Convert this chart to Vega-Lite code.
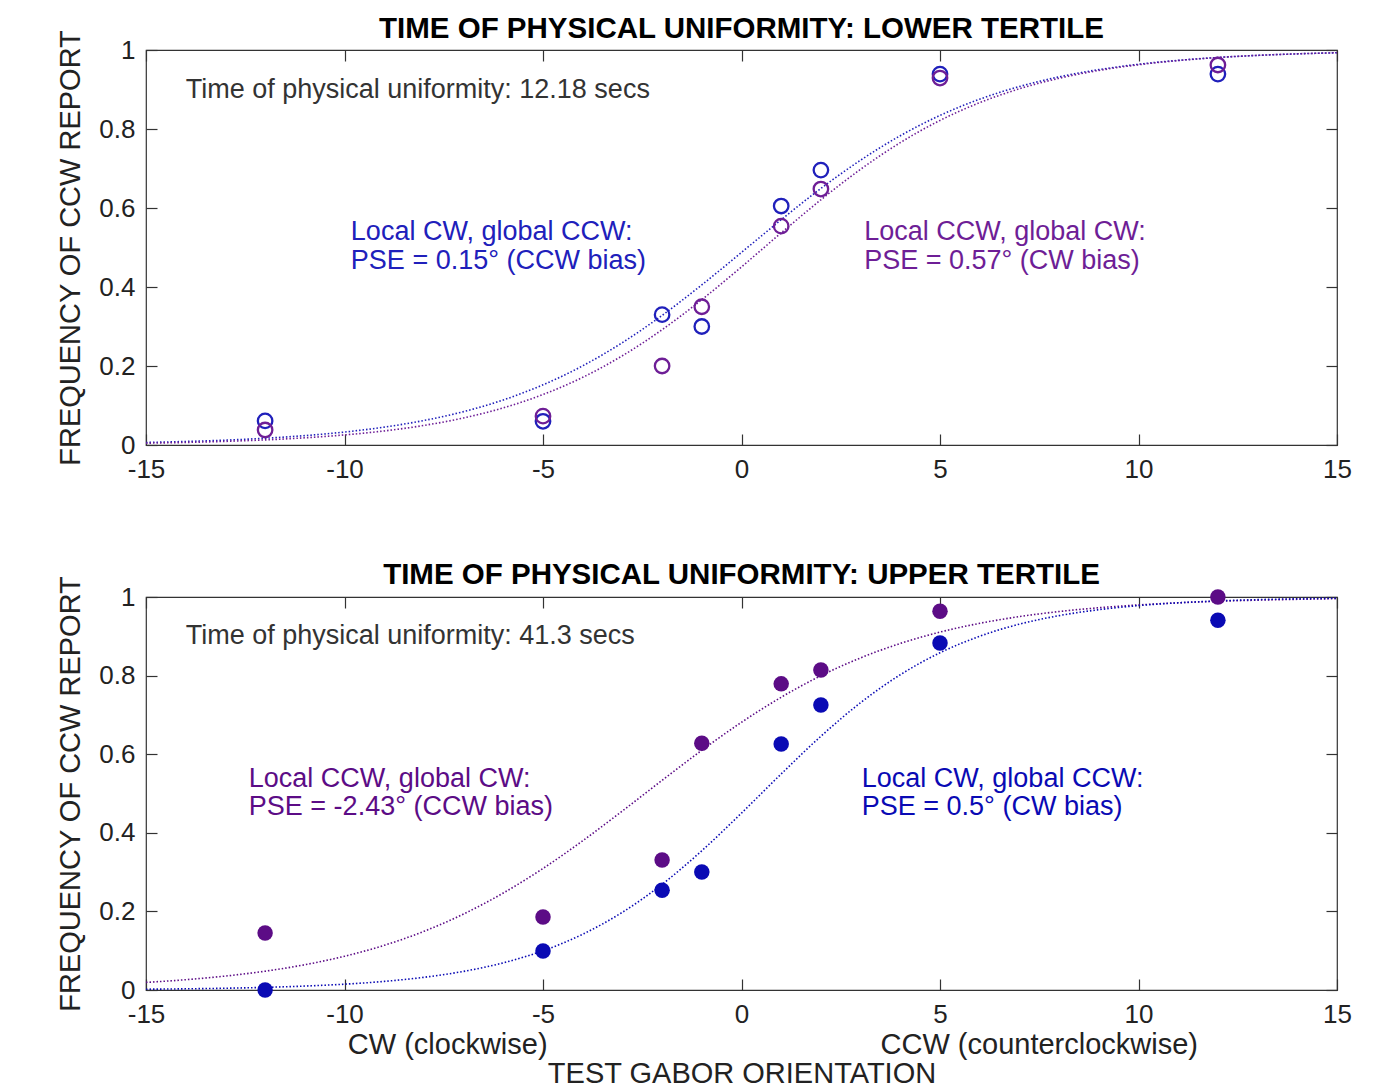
{
  "$schema": "https://vega.github.io/schema/vega-lite/v6.json",
  "padding": {"left": 56, "top": 13, "right": 5, "bottom": 0},
  "background": "white",
  "config": {
    "font": "Liberation Sans",
    "view": {"stroke": "#333333", "strokeWidth": 1.2},
    "axis": {
      "labelFont": "Liberation Sans", "labelFontSize": 26, "labelColor": "#222222",
      "titleFont": "Liberation Sans", "titleFontSize": 29, "titleFontWeight": "normal", "titleColor": "#222222",
      "domain": false, "grid": false, "tickColor": "#333333", "tickSize": -11, "tickWidth": 1.2,
      "labelExpr": "toString(datum.value)", "labelFlush": false, "labelOverlap": false
    },
    "title": {"font": "Liberation Sans", "fontSize": 29.5, "fontWeight": "bold", "color": "#000000", "offset": -15}
  },
  "datasets": {
    "points": [
      {"panel": "top", "condition": "Local CW, global CCW", "orientation": -12, "freq": 0.061},
      {"panel": "top", "condition": "Local CW, global CCW", "orientation": -5, "freq": 0.06},
      {"panel": "top", "condition": "Local CW, global CCW", "orientation": -2, "freq": 0.33},
      {"panel": "top", "condition": "Local CW, global CCW", "orientation": -1, "freq": 0.30},
      {"panel": "top", "condition": "Local CW, global CCW", "orientation": 1, "freq": 0.605},
      {"panel": "top", "condition": "Local CW, global CCW", "orientation": 2, "freq": 0.696},
      {"panel": "top", "condition": "Local CW, global CCW", "orientation": 5, "freq": 0.939},
      {"panel": "top", "condition": "Local CW, global CCW", "orientation": 12, "freq": 0.939},
      {"panel": "top", "condition": "Local CCW, global CW", "orientation": -12, "freq": 0.038},
      {"panel": "top", "condition": "Local CCW, global CW", "orientation": -5, "freq": 0.073},
      {"panel": "top", "condition": "Local CCW, global CW", "orientation": -2, "freq": 0.20},
      {"panel": "top", "condition": "Local CCW, global CW", "orientation": -1, "freq": 0.35},
      {"panel": "top", "condition": "Local CCW, global CW", "orientation": 1, "freq": 0.554},
      {"panel": "top", "condition": "Local CCW, global CW", "orientation": 2, "freq": 0.648},
      {"panel": "top", "condition": "Local CCW, global CW", "orientation": 5, "freq": 0.929},
      {"panel": "top", "condition": "Local CCW, global CW", "orientation": 12, "freq": 0.962},
      {"panel": "bottom", "condition": "Local CCW, global CW", "orientation": -12, "freq": 0.145},
      {"panel": "bottom", "condition": "Local CCW, global CW", "orientation": -5, "freq": 0.186},
      {"panel": "bottom", "condition": "Local CCW, global CW", "orientation": -2, "freq": 0.331},
      {"panel": "bottom", "condition": "Local CCW, global CW", "orientation": -1, "freq": 0.628},
      {"panel": "bottom", "condition": "Local CCW, global CW", "orientation": 1, "freq": 0.779},
      {"panel": "bottom", "condition": "Local CCW, global CW", "orientation": 2, "freq": 0.814},
      {"panel": "bottom", "condition": "Local CCW, global CW", "orientation": 5, "freq": 0.964},
      {"panel": "bottom", "condition": "Local CCW, global CW", "orientation": 12, "freq": 1.0},
      {"panel": "bottom", "condition": "Local CW, global CCW", "orientation": -12, "freq": 0.0},
      {"panel": "bottom", "condition": "Local CW, global CCW", "orientation": -5, "freq": 0.099},
      {"panel": "bottom", "condition": "Local CW, global CCW", "orientation": -2, "freq": 0.254},
      {"panel": "bottom", "condition": "Local CW, global CCW", "orientation": -1, "freq": 0.30},
      {"panel": "bottom", "condition": "Local CW, global CCW", "orientation": 1, "freq": 0.626},
      {"panel": "bottom", "condition": "Local CW, global CCW", "orientation": 2, "freq": 0.725},
      {"panel": "bottom", "condition": "Local CW, global CCW", "orientation": 5, "freq": 0.883},
      {"panel": "bottom", "condition": "Local CW, global CCW", "orientation": 12, "freq": 0.941}
    ],
    "curves": [
      {"panel": "top", "condition": "Local CW, global CCW", "orientation": -15, "freq": 0.0064},
      {"panel": "top", "condition": "Local CW, global CCW", "orientation": -14, "freq": 0.0089},
      {"panel": "top", "condition": "Local CW, global CCW", "orientation": -13, "freq": 0.0123},
      {"panel": "top", "condition": "Local CW, global CCW", "orientation": -12, "freq": 0.0171},
      {"panel": "top", "condition": "Local CW, global CCW", "orientation": -11, "freq": 0.0237},
      {"panel": "top", "condition": "Local CW, global CCW", "orientation": -10, "freq": 0.0328},
      {"panel": "top", "condition": "Local CW, global CCW", "orientation": -9, "freq": 0.0452},
      {"panel": "top", "condition": "Local CW, global CCW", "orientation": -8, "freq": 0.0620},
      {"panel": "top", "condition": "Local CW, global CCW", "orientation": -7, "freq": 0.0845},
      {"panel": "top", "condition": "Local CW, global CCW", "orientation": -6, "freq": 0.1141},
      {"panel": "top", "condition": "Local CW, global CCW", "orientation": -5, "freq": 0.1523},
      {"panel": "top", "condition": "Local CW, global CCW", "orientation": -4, "freq": 0.2005},
      {"panel": "top", "condition": "Local CW, global CCW", "orientation": -3, "freq": 0.2592},
      {"panel": "top", "condition": "Local CW, global CCW", "orientation": -2, "freq": 0.3281},
      {"panel": "top", "condition": "Local CW, global CCW", "orientation": -1, "freq": 0.4054},
      {"panel": "top", "condition": "Local CW, global CCW", "orientation": 0, "freq": 0.4875},
      {"panel": "top", "condition": "Local CW, global CCW", "orientation": 1, "freq": 0.5704},
      {"panel": "top", "condition": "Local CW, global CCW", "orientation": 2, "freq": 0.6495},
      {"panel": "top", "condition": "Local CW, global CCW", "orientation": 3, "freq": 0.7211},
      {"panel": "top", "condition": "Local CW, global CCW", "orientation": 4, "freq": 0.7830},
      {"panel": "top", "condition": "Local CW, global CCW", "orientation": 5, "freq": 0.8344},
      {"panel": "top", "condition": "Local CW, global CCW", "orientation": 6, "freq": 0.8755},
      {"panel": "top", "condition": "Local CW, global CCW", "orientation": 7, "freq": 0.9075},
      {"panel": "top", "condition": "Local CW, global CCW", "orientation": 8, "freq": 0.9320},
      {"panel": "top", "condition": "Local CW, global CCW", "orientation": 9, "freq": 0.9503},
      {"panel": "top", "condition": "Local CW, global CCW", "orientation": 10, "freq": 0.9639},
      {"panel": "top", "condition": "Local CW, global CCW", "orientation": 11, "freq": 0.9738},
      {"panel": "top", "condition": "Local CW, global CCW", "orientation": 12, "freq": 0.9811},
      {"panel": "top", "condition": "Local CW, global CCW", "orientation": 13, "freq": 0.9864},
      {"panel": "top", "condition": "Local CW, global CCW", "orientation": 14, "freq": 0.9902},
      {"panel": "top", "condition": "Local CW, global CCW", "orientation": 15, "freq": 0.9930},
      {"panel": "top", "condition": "Local CCW, global CW", "orientation": -15, "freq": 0.0046},
      {"panel": "top", "condition": "Local CCW, global CW", "orientation": -14, "freq": 0.0065},
      {"panel": "top", "condition": "Local CCW, global CW", "orientation": -13, "freq": 0.0092},
      {"panel": "top", "condition": "Local CCW, global CW", "orientation": -12, "freq": 0.0129},
      {"panel": "top", "condition": "Local CCW, global CW", "orientation": -11, "freq": 0.0182},
      {"panel": "top", "condition": "Local CCW, global CW", "orientation": -10, "freq": 0.0255},
      {"panel": "top", "condition": "Local CCW, global CW", "orientation": -9, "freq": 0.0356},
      {"panel": "top", "condition": "Local CCW, global CW", "orientation": -8, "freq": 0.0495},
      {"panel": "top", "condition": "Local CCW, global CW", "orientation": -7, "freq": 0.0685},
      {"panel": "top", "condition": "Local CCW, global CW", "orientation": -6, "freq": 0.0940},
      {"panel": "top", "condition": "Local CCW, global CW", "orientation": -5, "freq": 0.1278},
      {"panel": "top", "condition": "Local CCW, global CW", "orientation": -4, "freq": 0.1713},
      {"panel": "top", "condition": "Local CCW, global CW", "orientation": -3, "freq": 0.2260},
      {"panel": "top", "condition": "Local CCW, global CW", "orientation": -2, "freq": 0.2919},
      {"panel": "top", "condition": "Local CCW, global CW", "orientation": -1, "freq": 0.3679},
      {"panel": "top", "condition": "Local CCW, global CW", "orientation": 0, "freq": 0.4510},
      {"panel": "top", "condition": "Local CCW, global CW", "orientation": 1, "freq": 0.5370},
      {"panel": "top", "condition": "Local CCW, global CW", "orientation": 2, "freq": 0.6208},
      {"panel": "top", "condition": "Local CCW, global CW", "orientation": 3, "freq": 0.6980},
      {"panel": "top", "condition": "Local CCW, global CW", "orientation": 4, "freq": 0.7655},
      {"panel": "top", "condition": "Local CCW, global CW", "orientation": 5, "freq": 0.8217},
      {"panel": "top", "condition": "Local CCW, global CW", "orientation": 6, "freq": 0.8667},
      {"panel": "top", "condition": "Local CCW, global CW", "orientation": 7, "freq": 0.9018},
      {"panel": "top", "condition": "Local CCW, global CW", "orientation": 8, "freq": 0.9284},
      {"panel": "top", "condition": "Local CCW, global CW", "orientation": 9, "freq": 0.9482},
      {"panel": "top", "condition": "Local CCW, global CW", "orientation": 10, "freq": 0.9627},
      {"panel": "top", "condition": "Local CCW, global CW", "orientation": 11, "freq": 0.9733},
      {"panel": "top", "condition": "Local CCW, global CW", "orientation": 12, "freq": 0.9810},
      {"panel": "top", "condition": "Local CCW, global CW", "orientation": 13, "freq": 0.9864},
      {"panel": "top", "condition": "Local CCW, global CW", "orientation": 14, "freq": 0.9903},
      {"panel": "top", "condition": "Local CCW, global CW", "orientation": 15, "freq": 0.9931},
      {"panel": "bottom", "condition": "Local CCW, global CW", "orientation": -15, "freq": 0.0193},
      {"panel": "bottom", "condition": "Local CCW, global CW", "orientation": -14, "freq": 0.0262},
      {"panel": "bottom", "condition": "Local CCW, global CW", "orientation": -13, "freq": 0.0355},
      {"panel": "bottom", "condition": "Local CCW, global CW", "orientation": -12, "freq": 0.0478},
      {"panel": "bottom", "condition": "Local CCW, global CW", "orientation": -11, "freq": 0.0643},
      {"panel": "bottom", "condition": "Local CCW, global CW", "orientation": -10, "freq": 0.0858},
      {"panel": "bottom", "condition": "Local CCW, global CW", "orientation": -9, "freq": 0.1137},
      {"panel": "bottom", "condition": "Local CCW, global CW", "orientation": -8, "freq": 0.1492},
      {"panel": "bottom", "condition": "Local CCW, global CW", "orientation": -7, "freq": 0.1934},
      {"panel": "bottom", "condition": "Local CCW, global CW", "orientation": -6, "freq": 0.2468},
      {"panel": "bottom", "condition": "Local CCW, global CW", "orientation": -5, "freq": 0.3093},
      {"panel": "bottom", "condition": "Local CCW, global CW", "orientation": -4, "freq": 0.3797},
      {"panel": "bottom", "condition": "Local CCW, global CW", "orientation": -3, "freq": 0.4556},
      {"panel": "bottom", "condition": "Local CCW, global CW", "orientation": -2, "freq": 0.5335},
      {"panel": "bottom", "condition": "Local CCW, global CW", "orientation": -1, "freq": 0.6099},
      {"panel": "bottom", "condition": "Local CCW, global CW", "orientation": 0, "freq": 0.6812},
      {"panel": "bottom", "condition": "Local CCW, global CW", "orientation": 1, "freq": 0.7449},
      {"panel": "bottom", "condition": "Local CCW, global CW", "orientation": 2, "freq": 0.7997},
      {"panel": "bottom", "condition": "Local CCW, global CW", "orientation": 3, "freq": 0.8451},
      {"panel": "bottom", "condition": "Local CCW, global CW", "orientation": 4, "freq": 0.8818},
      {"panel": "bottom", "condition": "Local CCW, global CW", "orientation": 5, "freq": 0.9107},
      {"panel": "bottom", "condition": "Local CCW, global CW", "orientation": 6, "freq": 0.9330},
      {"panel": "bottom", "condition": "Local CCW, global CW", "orientation": 7, "freq": 0.9501},
      {"panel": "bottom", "condition": "Local CCW, global CW", "orientation": 8, "freq": 0.9630},
      {"panel": "bottom", "condition": "Local CCW, global CW", "orientation": 9, "freq": 0.9727},
      {"panel": "bottom", "condition": "Local CCW, global CW", "orientation": 10, "freq": 0.9798},
      {"panel": "bottom", "condition": "Local CCW, global CW", "orientation": 11, "freq": 0.9852},
      {"panel": "bottom", "condition": "Local CCW, global CW", "orientation": 12, "freq": 0.9891},
      {"panel": "bottom", "condition": "Local CCW, global CW", "orientation": 13, "freq": 0.9920},
      {"panel": "bottom", "condition": "Local CCW, global CW", "orientation": 14, "freq": 0.9941},
      {"panel": "bottom", "condition": "Local CCW, global CW", "orientation": 15, "freq": 0.9957},
      {"panel": "bottom", "condition": "Local CW, global CCW", "orientation": -15, "freq": 0.0020},
      {"panel": "bottom", "condition": "Local CW, global CCW", "orientation": -14, "freq": 0.0030},
      {"panel": "bottom", "condition": "Local CW, global CCW", "orientation": -13, "freq": 0.0045},
      {"panel": "bottom", "condition": "Local CW, global CCW", "orientation": -12, "freq": 0.0067},
      {"panel": "bottom", "condition": "Local CW, global CCW", "orientation": -11, "freq": 0.0100},
      {"panel": "bottom", "condition": "Local CW, global CCW", "orientation": -10, "freq": 0.0148},
      {"panel": "bottom", "condition": "Local CW, global CCW", "orientation": -9, "freq": 0.0219},
      {"panel": "bottom", "condition": "Local CW, global CCW", "orientation": -8, "freq": 0.0323},
      {"panel": "bottom", "condition": "Local CW, global CCW", "orientation": -7, "freq": 0.0474},
      {"panel": "bottom", "condition": "Local CW, global CCW", "orientation": -6, "freq": 0.0691},
      {"panel": "bottom", "condition": "Local CW, global CCW", "orientation": -5, "freq": 0.0998},
      {"panel": "bottom", "condition": "Local CW, global CCW", "orientation": -4, "freq": 0.1419},
      {"panel": "bottom", "condition": "Local CW, global CCW", "orientation": -3, "freq": 0.1978},
      {"panel": "bottom", "condition": "Local CW, global CCW", "orientation": -2, "freq": 0.2689},
      {"panel": "bottom", "condition": "Local CW, global CCW", "orientation": -1, "freq": 0.3543},
      {"panel": "bottom", "condition": "Local CW, global CCW", "orientation": 0, "freq": 0.4502},
      {"panel": "bottom", "condition": "Local CW, global CCW", "orientation": 1, "freq": 0.5498},
      {"panel": "bottom", "condition": "Local CW, global CCW", "orientation": 2, "freq": 0.6457},
      {"panel": "bottom", "condition": "Local CW, global CCW", "orientation": 3, "freq": 0.7311},
      {"panel": "bottom", "condition": "Local CW, global CCW", "orientation": 4, "freq": 0.8022},
      {"panel": "bottom", "condition": "Local CW, global CCW", "orientation": 5, "freq": 0.8581},
      {"panel": "bottom", "condition": "Local CW, global CCW", "orientation": 6, "freq": 0.9002},
      {"panel": "bottom", "condition": "Local CW, global CCW", "orientation": 7, "freq": 0.9309},
      {"panel": "bottom", "condition": "Local CW, global CCW", "orientation": 8, "freq": 0.9526},
      {"panel": "bottom", "condition": "Local CW, global CCW", "orientation": 9, "freq": 0.9677},
      {"panel": "bottom", "condition": "Local CW, global CCW", "orientation": 10, "freq": 0.9781},
      {"panel": "bottom", "condition": "Local CW, global CCW", "orientation": 11, "freq": 0.9852},
      {"panel": "bottom", "condition": "Local CW, global CCW", "orientation": 12, "freq": 0.9900},
      {"panel": "bottom", "condition": "Local CW, global CCW", "orientation": 13, "freq": 0.9933},
      {"panel": "bottom", "condition": "Local CW, global CCW", "orientation": 14, "freq": 0.9955},
      {"panel": "bottom", "condition": "Local CW, global CCW", "orientation": 15, "freq": 0.9970}
    ],
    "labels": [
      {"panel": "top", "condition": "Local CW, global CCW", "orientation": -9.84, "freq": 0.539, "text": "Local CW, global CCW:"},
      {"panel": "top", "condition": "Local CW, global CCW", "orientation": -9.84, "freq": 0.466, "text": "PSE = 0.15° (CCW bias)"},
      {"panel": "top", "condition": "Local CCW, global CW", "orientation": 3.09, "freq": 0.539, "text": "Local CCW, global CW:"},
      {"panel": "top", "condition": "Local CCW, global CW", "orientation": 3.09, "freq": 0.466, "text": "PSE = 0.57° (CW bias)"},
      {"panel": "bottom", "condition": "Local CCW, global CW", "orientation": -12.41, "freq": 0.537, "text": "Local CCW, global CW:"},
      {"panel": "bottom", "condition": "Local CCW, global CW", "orientation": -12.41, "freq": 0.466, "text": "PSE = -2.43° (CCW bias)"},
      {"panel": "bottom", "condition": "Local CW, global CCW", "orientation": 3.03, "freq": 0.537, "text": "Local CW, global CCW:"},
      {"panel": "bottom", "condition": "Local CW, global CCW", "orientation": 3.03, "freq": 0.466, "text": "PSE = 0.5° (CW bias)"}
    ],
    "notes": [
      {"panel": "top", "orientation": -14.0, "freq": 0.90, "text": "Time of physical uniformity: 12.18 secs"},
      {"panel": "bottom", "orientation": -14.0, "freq": 0.90, "text": "Time of physical uniformity: 41.3 secs"},
      {"panel": "bottom", "orientation": -7.4, "freq": -0.14, "text": "CW (clockwise)"},
      {"panel": "bottom", "orientation": 7.5, "freq": -0.14, "text": "CCW (counterclockwise)"}
    ]
  },
  "resolve": {"scale": {"color": "independent"}},
  "spacing": 76,
  "vconcat": [
    {
      "title": "TIME OF PHYSICAL UNIFORMITY: LOWER TERTILE",
      "width": 1191,
      "height": 395,
      "layer": [
        {
          "mark": {"type": "rule", "color": "#555555", "strokeDash": [1.5, 2.5], "strokeWidth": 1.2},
          "encoding": {
            "x": {"datum": 0, "type": "quantitative", "scale": {"domain": [-15, 15], "nice": false}, "axis": {"orient": "top", "labels": false, "title": null, "values": [-15, -10, -5, 0, 5, 10, 15]}}
          }
        },
        {
          "mark": {"type": "rule", "color": "#555555", "strokeDash": [1.5, 2.5], "strokeWidth": 1.2},
          "encoding": {
            "y": {"datum": 0.5, "type": "quantitative", "scale": {"domain": [0, 1], "nice": false}, "axis": {"orient": "right", "labels": false, "title": null, "values": [0, 0.2, 0.4, 0.6, 0.8, 1]}}
          }
        },
        {
          "data": {"name": "curves"},
          "transform": [{"filter": "datum.panel === 'top'"}],
          "mark": {"type": "line", "strokeDash": [1.5, 2], "strokeWidth": 1.6, "interpolate": "monotone"},
          "encoding": {
            "x": {"field": "orientation", "type": "quantitative", "scale": {"domain": [-15, 15], "nice": false}, "axis": {"orient": "bottom", "title": null, "values": [-15, -10, -5, 0, 5, 10, 15], "labelPadding": 22}},
            "y": {"field": "freq", "type": "quantitative", "scale": {"domain": [0, 1], "nice": false}, "axis": {"orient": "left", "title": "FREQUENCY OF CCW REPORT", "values": [0, 0.2, 0.4, 0.6, 0.8, 1], "labelPadding": 22, "titlePadding": 13}},
            "color": {"field": "condition", "type": "nominal", "scale": {"domain": ["Local CW, global CCW", "Local CCW, global CW"], "range": ["#2020bb", "#6e1e96"]}, "legend": null}
          }
        },
        {
          "data": {"name": "points"},
          "transform": [{"filter": "datum.panel === 'top'"}],
          "mark": {"type": "point", "filled": false, "size": 210, "strokeWidth": 2.3, "opacity": 1},
          "encoding": {
            "x": {"field": "orientation", "type": "quantitative", "axis": null},
            "y": {"field": "freq", "type": "quantitative", "axis": null},
            "color": {"field": "condition", "type": "nominal"}
          }
        },
        {
          "data": {"name": "labels"},
          "transform": [{"filter": "datum.panel === 'top'"}],
          "mark": {"type": "text", "align": "left", "baseline": "middle", "fontSize": 27, "font": "Liberation Sans"},
          "encoding": {
            "x": {"field": "orientation", "type": "quantitative", "axis": null},
            "y": {"field": "freq", "type": "quantitative", "axis": null},
            "text": {"field": "text"},
            "color": {"field": "condition", "type": "nominal"}
          }
        },
        {
          "data": {"name": "notes"},
          "transform": [{"filter": "datum.panel === 'top'"}],
          "mark": {"type": "text", "align": "left", "baseline": "middle", "fontSize": 27, "font": "Liberation Sans", "color": "#333333"},
          "encoding": {
            "x": {"field": "orientation", "type": "quantitative", "axis": null},
            "y": {"field": "freq", "type": "quantitative", "axis": null},
            "text": {"field": "text"}
          }
        }
      ]
    },
    {
      "title": "TIME OF PHYSICAL UNIFORMITY: UPPER TERTILE",
      "width": 1191,
      "height": 393,
      "layer": [
        {
          "mark": {"type": "rule", "color": "#555555", "strokeDash": [1.5, 2.5], "strokeWidth": 1.2},
          "encoding": {
            "x": {"datum": 0, "type": "quantitative", "scale": {"domain": [-15, 15], "nice": false}, "axis": {"orient": "top", "labels": false, "title": null, "values": [-15, -10, -5, 0, 5, 10, 15]}}
          }
        },
        {
          "mark": {"type": "rule", "color": "#555555", "strokeDash": [1.5, 2.5], "strokeWidth": 1.2},
          "encoding": {
            "y": {"datum": 0.5, "type": "quantitative", "scale": {"domain": [0, 1], "nice": false}, "axis": {"orient": "right", "labels": false, "title": null, "values": [0, 0.2, 0.4, 0.6, 0.8, 1]}}
          }
        },
        {
          "data": {"name": "curves"},
          "transform": [{"filter": "datum.panel === 'bottom'"}],
          "mark": {"type": "line", "strokeDash": [1.5, 2], "strokeWidth": 1.6, "interpolate": "monotone"},
          "encoding": {
            "x": {"field": "orientation", "type": "quantitative", "scale": {"domain": [-15, 15], "nice": false}, "axis": {"orient": "bottom", "title": "TEST GABOR ORIENTATION", "values": [-15, -10, -5, 0, 5, 10, 15], "labelPadding": 22, "titlePadding": 32}},
            "y": {"field": "freq", "type": "quantitative", "scale": {"domain": [0, 1], "nice": false}, "axis": {"orient": "left", "title": "FREQUENCY OF CCW REPORT", "values": [0, 0.2, 0.4, 0.6, 0.8, 1], "labelPadding": 22, "titlePadding": 13}},
            "color": {"field": "condition", "type": "nominal", "scale": {"domain": ["Local CW, global CCW", "Local CCW, global CW"], "range": ["#0a0ab4", "#5c0c86"]}, "legend": null}
          }
        },
        {
          "data": {"name": "points"},
          "transform": [{"filter": "datum.panel === 'bottom'"}],
          "mark": {"type": "circle", "size": 240, "opacity": 1},
          "encoding": {
            "x": {"field": "orientation", "type": "quantitative", "axis": null},
            "y": {"field": "freq", "type": "quantitative", "axis": null},
            "color": {"field": "condition", "type": "nominal"}
          }
        },
        {
          "data": {"name": "labels"},
          "transform": [{"filter": "datum.panel === 'bottom'"}],
          "mark": {"type": "text", "align": "left", "baseline": "middle", "fontSize": 27, "font": "Liberation Sans"},
          "encoding": {
            "x": {"field": "orientation", "type": "quantitative", "axis": null},
            "y": {"field": "freq", "type": "quantitative", "axis": null},
            "text": {"field": "text"},
            "color": {"field": "condition", "type": "nominal"}
          }
        },
        {
          "data": {"name": "notes"},
          "transform": [{"filter": "datum.panel === 'bottom' && datum.freq > 0"}],
          "mark": {"type": "text", "align": "left", "baseline": "middle", "fontSize": 27, "font": "Liberation Sans", "color": "#333333"},
          "encoding": {
            "x": {"field": "orientation", "type": "quantitative", "axis": null},
            "y": {"field": "freq", "type": "quantitative", "axis": null},
            "text": {"field": "text"}
          }
        },
        {
          "data": {"name": "notes"},
          "transform": [{"filter": "datum.panel === 'bottom' && datum.freq < 0"}],
          "mark": {"type": "text", "align": "center", "baseline": "middle", "fontSize": 29, "font": "Liberation Sans", "color": "#222222"},
          "encoding": {
            "x": {"field": "orientation", "type": "quantitative", "axis": null},
            "y": {"field": "freq", "type": "quantitative", "axis": null},
            "text": {"field": "text"}
          }
        }
      ]
    }
  ]
}
